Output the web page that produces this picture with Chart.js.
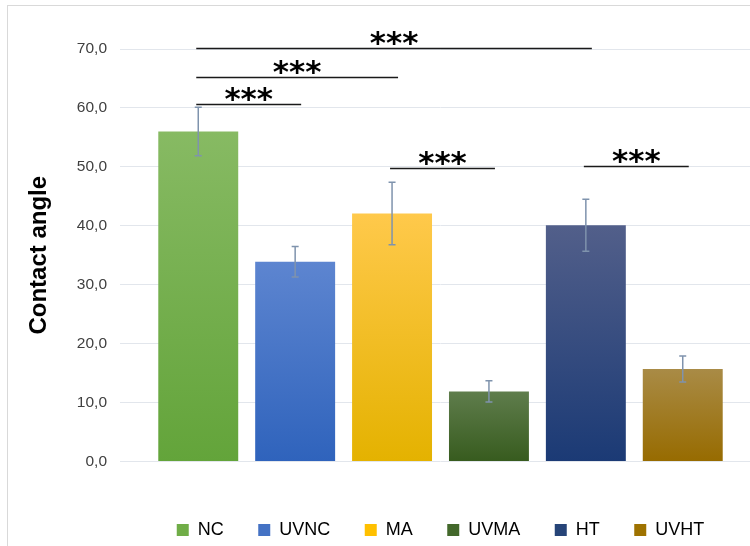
<!DOCTYPE html>
<html>
<head>
<meta charset="utf-8">
<script src="https://cdn.jsdelivr.net/npm/chart.js@4.4.1/dist/chart.umd.min.js"></script>
<style>
  html, body { margin: 0; padding: 0; width: 750px; height: 546px; overflow: hidden; background: #ffffff; }
  #frame { position: absolute; left: 7px; top: 5px; width: 900px; height: 700px; border: 1px solid #d9d9d9; box-sizing: border-box; }
  #wrap { position: absolute; left: 0; top: 0; width: 770px; height: 549px; }
</style>
</head>
<body>
<div id="frame"></div>
<div id="wrap"><canvas id="c" width="770" height="549"></canvas></div>
<script>
// ---- data ----
const groups = ['NC', 'UVNC', 'MA', 'UVMA', 'HT', 'UVHT'];
const means = [56.0, 33.9, 42.1, 11.9, 40.1, 15.7];
const errors = [4.1, 2.6, 5.3, 1.8, 4.4, 2.2];
const yTickLabels = ['0,0', '10,0', '20,0', '30,0', '40,0', '50,0', '60,0', '70,0'];
const compFrom = [0, 0, 0, 2, 4];
const compTo = [4, 2, 1, 3, 5];
const compLevel = [70.1, 65.2, 60.7, 49.8, 50.1];
const compLabel = ['***', '***', '***', '***', '***'];

// ---- styles ----
const solidColors = ['#70ad47', '#4472c4', '#ffc000', '#43682b', '#264478', '#9e7200'];
const topColors = ['#87ba63', '#5d85d0', '#ffc94b', '#5f7d4c', '#525f8a', '#a98b46'];
const bottomColors = ['#63a43a', '#2f63bc', '#e4b200', '#375b1e', '#1b3a75', '#976b00'];

function gradientFor(i) {
  return function (ctx) {
    const chart = ctx.chart;
    const area = chart.chartArea;
    if (!area || !chart.scales.y) return solidColors[i];
    const yTop = chart.scales.y.getPixelForValue(means[i]);
    const g = chart.ctx.createLinearGradient(0, yTop, 0, area.bottom);
    g.addColorStop(0, topColors[i]);
    g.addColorStop(1, bottomColors[i]);
    return g;
  };
}

const datasets = groups.map((name, i) => ({
  label: name,
  data: [means[i]],
  backgroundColor: gradientFor(i),
  borderWidth: 0,
  categoryPercentage: 0.907,
  barPercentage: 0.825
}));

const errorBarPlugin = {
  id: 'errorBars',
  afterDatasetsDraw(chart) {
    const ctx = chart.ctx;
    const y = chart.scales.y;
    ctx.save();
    ctx.strokeStyle = '#7f93ad';
    ctx.lineWidth = 1.5;
    groups.forEach((g, i) => {
      const el = chart.getDatasetMeta(i).data[0];
      if (!el) return;
      const x = el.x;
      const y1 = y.getPixelForValue(means[i] + errors[i]);
      const y2 = y.getPixelForValue(means[i] - errors[i]);
      ctx.beginPath();
      ctx.moveTo(x, y1); ctx.lineTo(x, y2);
      ctx.moveTo(x - 3.5, y1); ctx.lineTo(x + 3.5, y1);
      ctx.moveTo(x - 3.5, y2); ctx.lineTo(x + 3.5, y2);
      ctx.stroke();
    });
    ctx.restore();
  }
};

const sigPlugin = {
  id: 'sigLines',
  afterDraw(chart) {
    const ctx = chart.ctx;
    const y = chart.scales.y;
    ctx.save();
    ctx.strokeStyle = '#1a1a1a';
    ctx.lineWidth = 1.6;
    ctx.fillStyle = '#000000';
    ctx.font = 'bold 31px "DejaVu Sans"';
    ctx.textAlign = 'center';
    ctx.textBaseline = 'alphabetic';
    compFrom.forEach((a, k) => {
      const xa = chart.getDatasetMeta(a).data[0].x - 2;
      const xb = chart.getDatasetMeta(compTo[k]).data[0].x + 6;
      const yy = Math.round(y.getPixelForValue(compLevel[k])) + 0.5;
      ctx.beginPath();
      ctx.moveTo(xa, yy); ctx.lineTo(xb, yy);
      ctx.stroke();
      ctx.fillText(compLabel[k], (xa + xb) / 2, yy + 4);
    });
    ctx.restore();
  }
};

new Chart(document.getElementById('c'), {
  type: 'bar',
  data: { labels: [''], datasets: datasets },
  options: {
    responsive: false,
    devicePixelRatio: 1,
    animation: false,
    layout: { padding: { top: 49, right: 9, bottom: 0, left: 0 } },
    plugins: {
      tooltip: { enabled: false },
      legend: {
        position: 'bottom',
        fullSize: false,
        labels: {
          boxWidth: 12,
          boxHeight: 12,
          padding: 34.5,
          color: '#000000',
          font: { family: '"Liberation Sans", Arial, sans-serif', size: 18 },
          generateLabels: (chart) => groups.map((name, i) => ({
            text: name,
            fillStyle: solidColors[i],
            strokeStyle: solidColors[i],
            lineWidth: 0,
            hidden: false,
            datasetIndex: i
          }))
        }
      }
    },
    scales: {
      x: {
        display: true,
        grid: { display: false },
        border: { display: false },
        ticks: { display: false },
        afterFit: (s) => { s.height = 25; }
      },
      y: {
        min: 0,
        max: 70,
        afterFit: (s) => { s.width = 120; },
        border: { display: false },
        grid: { color: '#e2e6ec', lineWidth: 1, drawTicks: false },
        ticks: {
          stepSize: 10,
          padding: 13,
          color: '#404040',
          font: { family: '"Liberation Sans", Arial, sans-serif', size: 15.5 },
          callback: (v, idx) => yTickLabels[idx]
        },
        title: {
          display: true,
          text: 'Contact angle',
          color: '#000000',
          padding: { top: 24.6, bottom: 0 },
          font: { family: '"Liberation Sans", Arial, sans-serif', size: 24, weight: 'bold', lineHeight: 1.2 }
        }
      }
    }
  },
  plugins: [errorBarPlugin, sigPlugin]
});
</script>
</body>
</html>
